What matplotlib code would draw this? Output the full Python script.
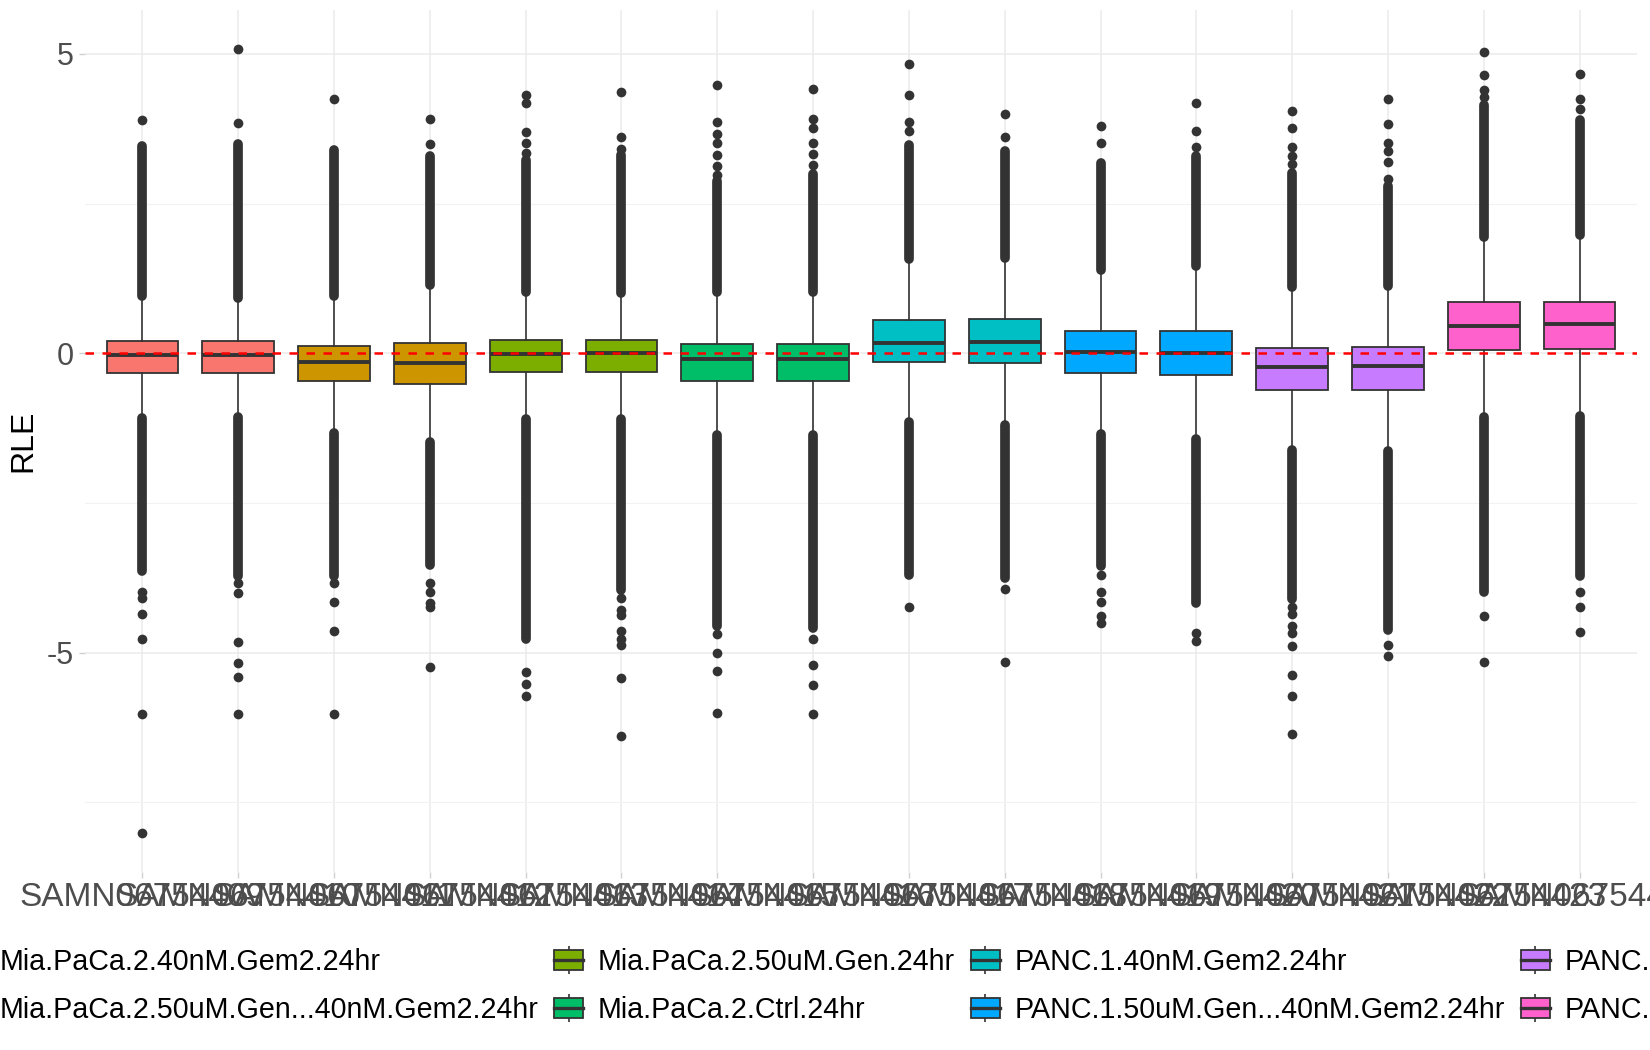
import matplotlib
matplotlib.use("Agg")
import matplotlib.pyplot as plt
from matplotlib.patches import Patch
from matplotlib.lines import Line2D
from matplotlib.legend_handler import HandlerTuple
from matplotlib.ticker import MultipleLocator

plt.rcParams['font.family'] = ['Liberation Sans', 'DejaVu Sans']

samples = ["SAMN06754409", "SAMN06754410", "SAMN06754411", "SAMN06754412",
           "SAMN06754413", "SAMN06754414", "SAMN06754415", "SAMN06754416",
           "SAMN06754417", "SAMN06754418", "SAMN06754419", "SAMN06754420",
           "SAMN06754421", "SAMN06754422", "SAMN06754423", "SAMN06754424"]

conditions = ["Mia.PaCa.2.40nM.Gem2.24hr", "Mia.PaCa.2.50uM.Gen...40nM.Gem2.24hr",
              "Mia.PaCa.2.50uM.Gen.24hr", "Mia.PaCa.2.Ctrl.24hr",
              "PANC.1.40nM.Gem2.24hr", "PANC.1.50uM.Gen...40nM.Gem2.24hr",
              "PANC.1.50uM.Gen.24hr", "PANC.1.Ctrl.24hr"]
cond_colors = ["#F8766D", "#CD9600", "#7CAE00", "#00BE67",
               "#00BFC4", "#00A9FF", "#C77CFF", "#FF61CC"]
sample_cond = [0, 0, 1, 1, 2, 2, 3, 3, 4, 4, 5, 5, 6, 6, 7, 7]

q1 = [-0.33, -0.33, -0.47, -0.52, -0.32, -0.32, -0.47, -0.47,
      -0.15, -0.16, -0.33, -0.37, -0.61, -0.61, 0.06, 0.07]
med = [-0.03, -0.03, -0.15, -0.16, -0.02, 0.00, -0.10, -0.10,
       0.17, 0.19, 0.02, 0.01, -0.23, -0.22, 0.45, 0.49]
q3 = [0.21, 0.21, 0.12, 0.18, 0.23, 0.23, 0.15, 0.15,
      0.56, 0.57, 0.38, 0.38, 0.09, 0.11, 0.85, 0.86]
whis_hi = [0.96, 0.93, 0.96, 1.14, 1.02, 1.00, 1.02, 1.02,
           1.57, 1.60, 1.39, 1.45, 1.10, 1.13, 1.95, 1.97]
whis_lo = [-1.08, -1.06, -1.33, -1.49, -1.10, -1.10, -1.36, -1.36,
           -1.15, -1.19, -1.34, -1.43, -1.61, -1.63, -1.06, -1.05]

# dense runs of outliers (they merge into a solid streak)
dense_top = [3.46, 3.50, 3.40, 3.30, 3.23, 3.31, 2.88, 2.99,
             3.48, 3.38, 3.18, 3.30, 3.02, 2.80, 4.14, 3.89]
dense_bottom = [-3.64, -3.72, -3.72, -3.53, -4.78, -3.95, -4.56, -4.59,
                -3.70, -3.75, -3.56, -4.17, -4.11, -4.62, -3.98, -3.72]

# isolated outliers
sparse = [
    [3.89, -3.98, -4.09, -4.35, -4.77, -6.03, -8.01],
    [3.85, 5.08, -3.84, -4.00, -4.83, -5.18, -5.40, -6.03],
    [4.25, -3.84, -4.15, -4.64, -6.03],
    [3.50, 3.92, -3.84, -3.98, -4.17, -4.24, -5.24],
    [3.35, 3.52, 3.70, 4.18, 4.31, -5.33, -5.52, -5.72],
    [3.41, 3.61, 4.36, -4.09, -4.28, -4.37, -4.64, -4.78, -4.87, -5.43, -6.40],
    [2.97, 3.13, 3.31, 3.52, 3.66, 3.86, 4.49, -4.69, -5.01, -5.30, -6.01],
    [3.14, 3.33, 3.52, 3.77, 3.91, 4.42, -4.77, -5.20, -5.54, -6.03],
    [3.72, 3.86, 4.31, 4.83, -4.24],
    [3.61, 4.00, -3.93, -5.15],
    [3.52, 3.80, -3.70, -3.99, -4.15, -4.38, -4.50],
    [3.44, 3.72, 4.18, -4.67, -4.81],
    [3.16, 3.30, 3.44, 3.77, 4.05, -4.23, -4.35, -4.56, -4.67, -4.89, -5.37, -5.72, -6.36],
    [2.91, 3.19, 3.38, 3.52, 3.83, 4.25, -4.87, -5.05],
    [4.28, 4.39, 4.65, 5.04, -4.38, -5.15],
    [4.08, 4.25, 4.67, -3.99, -4.24, -4.65],
]

dark = "#333333"
fig = plt.figure(figsize=(16.5, 10.5), dpi=100)
ax = fig.add_axes([85 / 1650, 1 - 872 / 1050, 1552 / 1650, 862 / 1050])

pos = list(range(len(samples)))
stats = []
for i in pos:
    stats.append(dict(med=med[i], q1=q1[i], q3=q3[i], whislo=whis_lo[i],
                      whishi=whis_hi[i], fliers=sparse[i]))

bp = ax.bxp(stats, positions=pos, widths=0.75, patch_artist=True, showcaps=False,
            boxprops=dict(edgecolor=dark, linewidth=1.3),
            medianprops=dict(color=dark, linewidth=2.8),
            whiskerprops=dict(color=dark, linewidth=1.2),
            flierprops=dict(marker='o', markerfacecolor=dark, markeredgecolor='none',
                            markersize=7.0))
for i, b in enumerate(bp['boxes']):
    b.set_facecolor(cond_colors[sample_cond[i]])

up = ax.vlines(pos, whis_hi, dense_top, colors=dark, linewidth=7.0, zorder=2)
up.set_capstyle('round')
dn = ax.vlines(pos, dense_bottom, whis_lo, colors=dark, linewidth=7.0, zorder=2)
dn.set_capstyle('round')

ax.axhline(0, color='red', linestyle=(0, (3.4, 3.4)), linewidth=1.8, zorder=5)

allv = [v for s in sparse for v in s]
lo, hi = min(allv), max(allv)
rng = hi - lo
ax.set_ylim(lo - 0.05 * rng, hi + 0.05 * rng)
ax.set_xlim(-0.6, len(samples) - 0.4)

ax.set_xticks(pos)
ax.set_xticklabels(samples)
ax.yaxis.set_minor_locator(MultipleLocator(2.5))
ax.set_yticks([-5, 0, 5])
ax.set_yticklabels(["-5", "0", "5"])
ax.tick_params(axis='both', which='major', labelsize=22, labelcolor="#4D4D4D",
               color="#D0D0D0", length=4.3, width=1.0, pad=4)
ax.tick_params(axis='x', which='major', labelsize=24, pad=3)
ax.tick_params(axis='y', which='minor', length=0)
ax.set_axisbelow(True)
ax.grid(True, which='major', color="#EBEBEB", linewidth=1.1)
ax.grid(True, which='minor', axis='y', color="#F2F2F2", linewidth=0.8)
for s in ax.spines.values():
    s.set_visible(False)

fig.text(23 / 1650, 1 - 441 / 1050, "RLE", rotation=90, ha='center', va='center',
         fontsize=23, color='black')

handles = []
for c in cond_colors:
    wh = Line2D([], [], linestyle='none', marker='|', markersize=19.5,
                markeredgecolor=dark, markeredgewidth=1.2)
    bx = Patch(facecolor=c, edgecolor=dark, linewidth=1.3)
    md = Line2D([], [], color=dark, linewidth=2.4)
    handles.append((wh, bx, md))

fig.legend(handles, conditions, ncol=4, loc='center left',
           bbox_to_anchor=(-44 / 1650, 1 - 986 / 1050), frameon=False,
           fontsize=20.6, handlelength=1.0, handleheight=0.7, handletextpad=0.52,
           columnspacing=0.56, labelspacing=0.72, borderpad=0, borderaxespad=0,
           handler_map={tuple: HandlerTuple(ndivide=1, pad=0)})

fig.savefig("out.png", dpi=100)
